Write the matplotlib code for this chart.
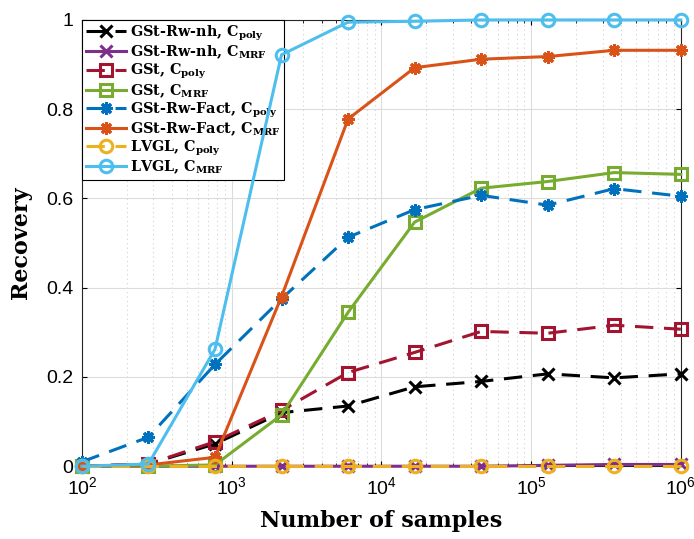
import numpy as np
import matplotlib
matplotlib.use('Agg')
import matplotlib.pyplot as plt
from matplotlib.ticker import LogLocator, NullFormatter

# Number of samples (logspace 1e2 .. 1e6, 10 points)
samples = [1e2, 2.78e2, 7.74e2, 2.154e3, 5.995e3, 1.6681e4,
           4.6416e4, 1.29155e5, 3.59381e5, 1e6]

gst_rw_nh_poly = [0.0, 0.005, 0.05, 0.12, 0.135, 0.178, 0.19, 0.207, 0.198, 0.207]
gst_rw_nh_mrf = [0.0, 0.0, 0.0, 0.0, 0.0, 0.0, 0.0, 0.002, 0.004, 0.004]
gst_poly = [0.0, 0.005, 0.055, 0.125, 0.21, 0.255, 0.302, 0.298, 0.316, 0.307]
gst_mrf = [0.0, 0.0, 0.003, 0.115, 0.345, 0.547, 0.623, 0.638, 0.658, 0.654]
gst_fact_poly = [0.01, 0.065, 0.228, 0.375, 0.513, 0.575, 0.607, 0.585, 0.622, 0.605]
gst_fact_mrf = [0.0, 0.003, 0.02, 0.38, 0.778, 0.893, 0.912, 0.918, 0.932, 0.932]
lvgl_poly = [0.0] * 10
lvgl_mrf = [0.0, 0.005, 0.262, 0.922, 0.995, 0.997, 1.0, 1.0, 1.0, 1.0]

plt.rcParams['mathtext.fontset'] = 'custom'
plt.rcParams['mathtext.rm'] = 'DejaVu Serif'
plt.rcParams['mathtext.bf'] = 'DejaVu Serif:bold'

asterisk = (8, 2, 0)

series = [
    (gst_rw_nh_poly, 'GSt-Rw-nh, C$_{\\mathbf{poly}}$', (0, 0, 0), 'x', '--'),
    (gst_rw_nh_mrf, 'GSt-Rw-nh, C$_{\\mathbf{MRF}}$', (0.494, 0.184, 0.556), 'x', '-'),
    (gst_poly, 'GSt, C$_{\\mathbf{poly}}$', (0.635, 0.078, 0.184), 's', '--'),
    (gst_mrf, 'GSt, C$_{\\mathbf{MRF}}$', (0.466, 0.674, 0.188), 's', '-'),
    (gst_fact_poly, 'GSt-Rw-Fact, C$_{\\mathbf{poly}}$', (0, 0.447, 0.741), asterisk, '--'),
    (gst_fact_mrf, 'GSt-Rw-Fact, C$_{\\mathbf{MRF}}$', (0.85, 0.325, 0.098), asterisk, '-'),
    (lvgl_poly, 'LVGL, C$_{\\mathbf{poly}}$', (0.929, 0.694, 0.125), 'o', '--'),
    (lvgl_mrf, 'LVGL, C$_{\\mathbf{MRF}}$', (0.301, 0.745, 0.933), 'o', '-'),
]

fig = plt.figure(figsize=(6.94, 5.39), dpi=100)
ax = fig.add_axes([0.118, 0.135, 0.863, 0.828])

for vals, label, color, marker, ls in series:
    ax.plot(samples, vals, linestyle=ls, color=color, marker=marker,
            markersize=9, markerfacecolor='none', markeredgewidth=2.2,
            linewidth=2.2, label=label, clip_on=False, zorder=3,
            dashes=(6, 3.5) if ls == '--' else (None, None))

ax.set_xscale('log')
ax.set_xlim(1e2, 1e6)
ax.set_ylim(0, 1)
ax.set_yticks([0, 0.2, 0.4, 0.6, 0.8, 1])
ax.set_yticklabels(['0', '0.2', '0.4', '0.6', '0.8', '1'])
ax.xaxis.set_minor_locator(LogLocator(base=10, subs=np.arange(2, 10), numticks=20))
ax.xaxis.set_minor_formatter(NullFormatter())

ax.grid(True, which='major', color='#dcdcdc', linewidth=0.8)
ax.grid(True, which='minor', axis='x', color='#d0d0d0', linestyle=(0, (1, 3)), linewidth=0.8)
ax.set_axisbelow(True)

ax.tick_params(which='both', direction='in', top=True, right=True, labelsize=14)
ax.tick_params(axis='x', pad=7)
ax.tick_params(axis='y', pad=6)
for lab in ax.get_xticklabels() + ax.get_yticklabels():
    lab.set_family('Liberation Sans')
for sp in ax.spines.values():
    sp.set_color('#262626')
    sp.set_linewidth(0.8)

ax.set_xlabel('Number of samples', family='DejaVu Serif', fontweight='bold',
              fontsize=16, labelpad=9)
ax.set_ylabel('Recovery', family='DejaVu Serif', fontweight='bold',
              fontsize=16, labelpad=10)

leg = ax.legend(loc='upper left', prop={'family': 'DejaVu Serif', 'weight': 'bold', 'size': 10.4},
                frameon=True, fancybox=False, edgecolor='black', framealpha=1,
                borderpad=0.25, labelspacing=0.05, handlelength=2.8, handletextpad=0.3,
                borderaxespad=0.0)
leg.get_frame().set_linewidth(0.8)
leg.set_zorder(2.9)

fig.savefig('out.png', dpi=100)
